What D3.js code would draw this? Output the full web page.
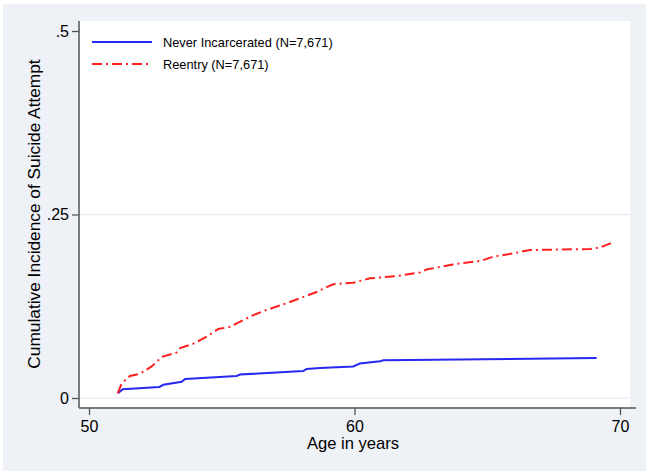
<!DOCTYPE html>
<html lang="en">
<head>
    <meta charset="UTF-8">
    <script src="https://d3js.org/d3.v7.min.js"></script>
    <title>Cumulative Incidence of Suicide Attempt</title>
    <style>
        body { margin: 0; background: #fff; }
        text { font-family: "Liberation Sans", Arial, sans-serif; fill: #000; }
    </style>
</head>
<body>
    <svg width="650" height="476"></svg>
    <script>
        // series: [age, cumulative incidence]
        var neverAge = [51.09, 51.27, 52.65, 52.8, 53.49, 53.62, 55.56, 55.69, 58.07, 58.2, 58.7, 59.95, 60.2, 60.96, 61.09, 69.12];
        var neverInc = [0.0064, 0.0118, 0.015, 0.018, 0.022, 0.026, 0.030, 0.032, 0.0368, 0.0395, 0.041, 0.043, 0.047, 0.050, 0.0513, 0.0545];

        var reentryAge = [51.08, 51.23, 51.54, 51.92, 52.36, 52.74, 53.3, 53.43, 53.93, 54.43, 54.87, 55.31, 55.81, 56.19, 56.69, 57.44, 57.95, 58.7, 58.82, 59.2, 59.95, 60.58, 61.58, 62.46, 62.71, 63.71, 64.78, 65.22, 65.97, 66.6, 68.86, 69.25, 69.69];
        var reentryInc = [0.0064, 0.020, 0.030, 0.033, 0.043, 0.056, 0.062, 0.068, 0.074, 0.0835, 0.094, 0.097, 0.106, 0.113, 0.120, 0.129, 0.136, 0.146, 0.149, 0.155, 0.157, 0.163, 0.166, 0.171, 0.175, 0.182, 0.187, 0.1925, 0.197, 0.2016, 0.203, 0.205, 0.2115];

        var xTicks = [50, 60, 70];
        var yTicks = [0, 0.25, 0.5];
        var yTickLabels = ["0", ".25", ".5"];
        var seriesNames = ["Never Incarcerated (N=7,671)", "Reentry (N=7,671)"];

        var svg = d3.select('svg');

        // outer stata-style background
        svg.append('rect')
            .attr('x', 3).attr('y', 4)
            .attr('width', 643).attr('height', 467)
            .attr('fill', '#eef1f6');

        svg.append('rect')
            .attr('x', 80).attr('y', 21)
            .attr('width', 550).attr('height', 386)
            .attr('fill', '#fff');

        var xScale = d3.scaleLinear().domain([50, 70]).range([89, 620]);
        var yScale = d3.scaleLinear().domain([0, 0.5]).range([398, 31]);

        // gridlines
        svg.append('g')
            .selectAll('line')
            .data([0, 0.25])
            .enter().append('line')
            .attr('x1', 80).attr('x2', 630)
            .attr('y1', d => yScale(d)).attr('y2', d => yScale(d))
            .attr('stroke', '#e8edf4')
            .attr('stroke-width', 1.5);

        var yAxis = svg.append('g')
            .attr('transform', 'translate(79,0)')
            .call(d3.axisLeft(yScale).tickValues(yTicks).tickFormat((d, i) => yTickLabels[i]).tickSize(7).tickSizeOuter(0).tickPadding(3));
        yAxis.select('.domain').attr('d', 'M0,21V408').attr('stroke', '#555').attr('stroke-width', 1.5);
        yAxis.selectAll('.tick line').attr('stroke', '#555').attr('stroke-width', 1.3);
        yAxis.selectAll('.tick text').style('font-size', '16px').attr('font-family', null);

        var xAxis = svg.append('g')
            .attr('transform', 'translate(0,408)')
            .call(d3.axisBottom(xScale).tickValues(xTicks).tickSize(7).tickSizeOuter(0).tickPadding(5.5));
        xAxis.select('.domain').attr('d', 'M79,0H636').attr('stroke', '#555').attr('stroke-width', 1.5);
        xAxis.selectAll('.tick line').attr('stroke', '#555').attr('stroke-width', 1.3);
        xAxis.selectAll('.tick text').style('font-size', '16px').attr('font-family', null);

        // axis titles
        svg.append('text')
            .attr('transform', 'translate(40,214) rotate(-90)')
            .attr('text-anchor', 'middle')
            .style('font-size', '17.3px')
            .text('Cumulative Incidence of Suicide Attempt');

        svg.append('text')
            .attr('x', 353).attr('y', 449)
            .attr('text-anchor', 'middle')
            .style('font-size', '16.6px')
            .text('Age in years');

        var line = d3.line()
            .x(d => xScale(d[0]))
            .y(d => yScale(d[1]));

        var neverData = neverAge.map((a, i) => [a, neverInc[i]]);
        var reentryData = reentryAge.map((a, i) => [a, reentryInc[i]]);

        svg.append('path')
            .datum(neverData)
            .attr('d', line)
            .attr('fill', 'none')
            .attr('stroke', '#2828f0')
            .attr('stroke-width', 2);

        svg.append('path')
            .datum(reentryData)
            .attr('d', line)
            .attr('fill', 'none')
            .attr('stroke', '#ff2020')
            .attr('stroke-width', 2)
            .attr('stroke-dasharray', '10,4,2,4');

        // legend
        var legend = svg.append('g');
        var legendStyles = [
            { color: '#2828f0', dash: null },
            { color: '#ff2020', dash: '10,4,2,4' }
        ];
        seriesNames.forEach(function (name, i) {
            var y = 42 + i * 22;
            legend.append('line')
                .attr('x1', 92).attr('x2', 152)
                .attr('y1', y).attr('y2', y)
                .attr('stroke', legendStyles[i].color)
                .attr('stroke-width', 2)
                .attr('stroke-dasharray', legendStyles[i].dash);
            legend.append('text')
                .attr('x', 163).attr('y', y + 4.5)
                .style('font-size', '12.8px')
                .text(name);
        });
    </script>
</body>
</html>
